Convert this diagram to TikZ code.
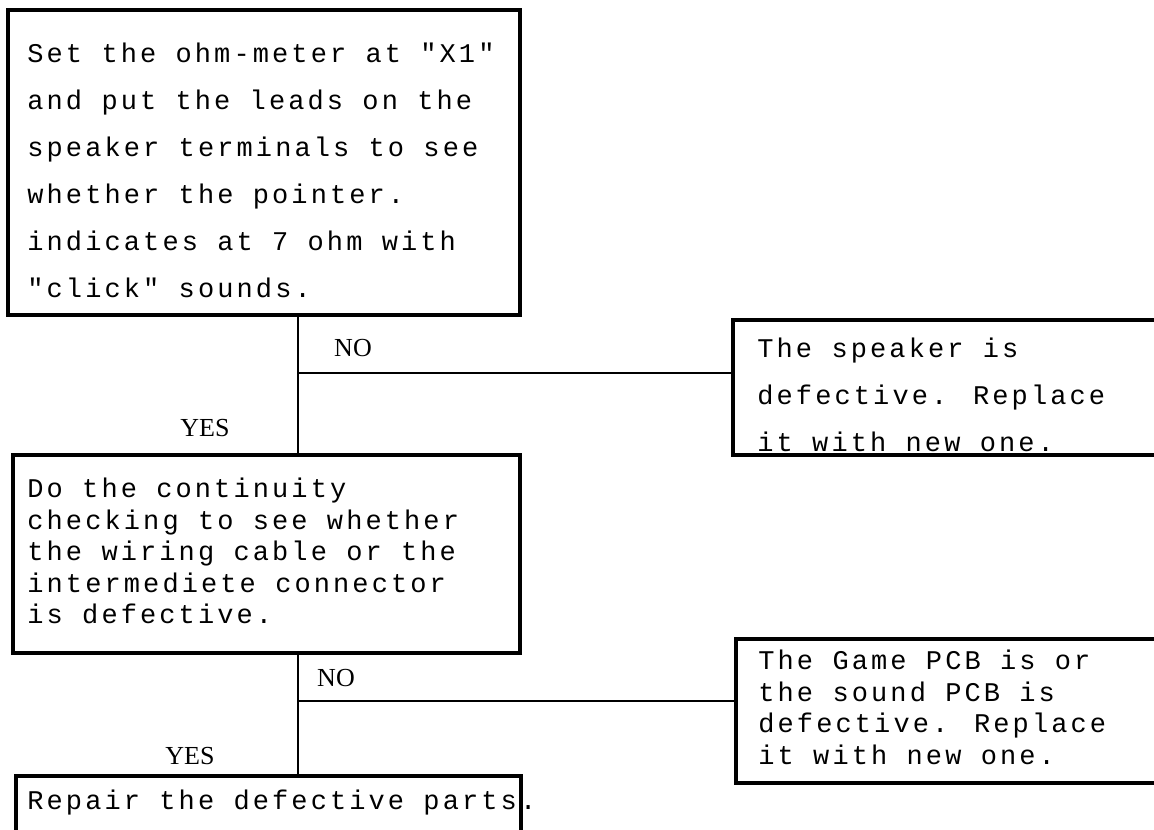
\documentclass[tikz,border=0pt]{standalone}
\usepackage{fontspec}
\setmainfont{Liberation Serif}
\newfontfamily\stepfont{Liberation Mono}[LetterSpace=11.5]
\usetikzlibrary{fit}

\tikzset{
    stepbox/.style={draw, rectangle, line width=1.6pt, inner sep=0pt},
    widetext/.style={anchor=north west, inner sep=0pt, align=left,
        font=\stepfont\fontsize{13.5}{23.5}\selectfont},
    narrowtext/.style={anchor=north west, inner sep=0pt, align=left,
        font=\stepfont\fontsize{13.5}{15.75}\selectfont},
    answer/.style={inner sep=0pt, font=\fontsize{13}{15}\selectfont},
    wire/.style={line width=1.1pt}
}

\begin{document}
\begin{tikzpicture}[x=0.5pt, y=-0.5pt]

    \useasboundingbox (0,0) rectangle (1154,829);

    % boxes
    \node[stepbox, fit={(8,10) (520,315)}] (set) {};
    \node[stepbox, fit={(733,320) (1180,455)}] (speaker) {};
    \node[stepbox, fit={(13,455) (520,653)}] (cont) {};
    \node[stepbox, fit={(736,639) (1180,783)}] (pcb) {};
    \node[stepbox, fit={(16,776) (521,850)}] (repair) {};

    % texts
    \node[widetext] (setText) at (27,43) {Set the ohm-meter at "X1"\\and put the leads on the\\speaker terminals to see\\whether the pointer.\\indicates at 7 ohm with\\"click" sounds.};
    \node[widetext] (speakerText) at (757,338) {The speaker is\\defective. Replace\\it with new one.};
    \node[narrowtext] (contText) at (27,478) {Do the continuity\\checking to see whether\\the wiring cable or the\\intermediete connector\\is defective.};
    \node[narrowtext] (pcbText) at (758,650) {The Game PCB is or\\the sound PCB is\\defective. Replace\\it with new one.};
    \node[narrowtext] (repairText) at (27,790) {Repair the defective parts.};

    % answers
    \node[answer] (no1) at (353,348) {NO};
    \node[answer] (yes1) at (205,428) {YES};
    \node[answer] (no2) at (336,678) {NO};
    \node[answer] (yes2) at (190,756) {YES};

    % connectors
    \coordinate (j1) at (298,373);
    \coordinate (j2) at (298,701);
    \draw[wire] (set.south -| j1) -- (cont.north -| j1);
    \draw[wire] (j1) -- (j1 -| speaker.west);
    \draw[wire] (cont.south -| j2) -- (repair.north -| j2);
    \draw[wire] (j2) -- (j2 -| pcb.west);

\end{tikzpicture}
\end{document}
